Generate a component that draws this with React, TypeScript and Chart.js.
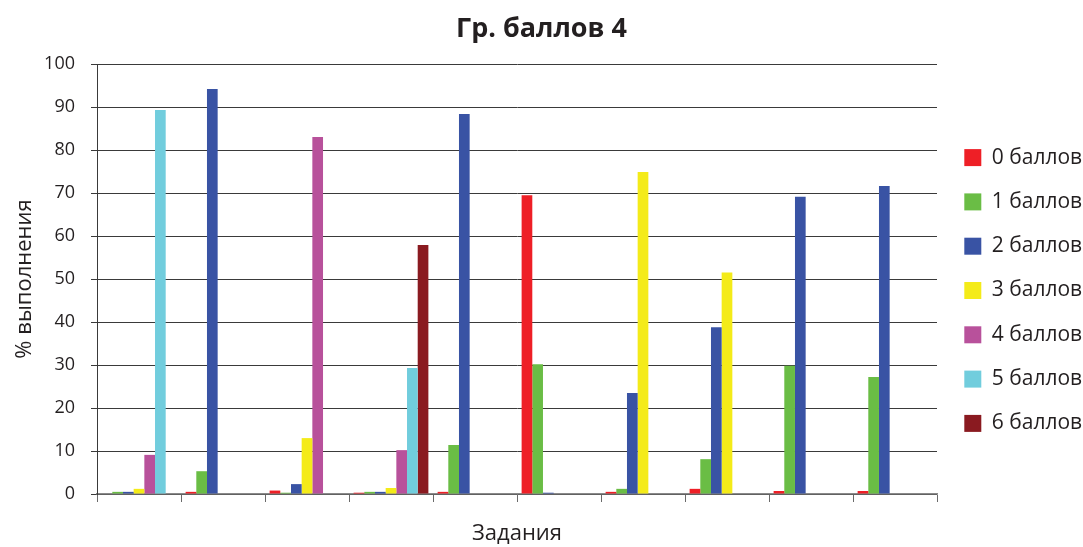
import React, { useEffect, useRef } from "react";
import { Chart, registerables } from "chart.js";

Chart.register(...registerables);

const categories = ["1", "2", "3", "4", "5", "6", "7", "8", "9", "10"];
const seriesNames = ["0 баллов", "1 баллов", "2 баллов", "3 баллов", "4 баллов", "5 баллов", "6 баллов"];
const score0 = [0, 0.5, 0.8, 0.3, 0.5, 69.5, 0.5, 1.2, 0.7, 0.7];
const score1 = [0.5, 5.3, 0.3, 0.5, 11.4, 30.2, 1.2, 8.1, 29.8, 27.2];
const score2 = [0.5, 94.2, 2.3, 0.5, 88.4, 0.3, 23.5, 38.8, 69.1, 71.6];
const score3 = [1.2, 0, 13.0, 1.4, 0, 0, 74.9, 51.5, 0, 0];
const score4 = [9.1, 0, 83.0, 10.2, 0, 0, 0, 0, 0, 0];
const score5 = [89.3, 0, 0, 29.3, 0, 0, 0, 0, 0, 0];
const score6 = [0, 0, 0, 57.9, 0, 0, 0, 0, 0, 0];
const seriesColors = ["#ee1f26", "#6abd45", "#3953a4", "#f4eb19", "#b8519b", "#71cddd", "#8a1a20"];

const FONT = "'Open Sans', 'Noto Sans', sans-serif";
const TEXT = "#231f20";

const legendPatch = {
  id: "legendPatch",
  beforeLayout(chart: any) {
    const lg: any = chart.legend;
    if (lg && !lg.__patched) {
      const orig = lg.fit.bind(lg);
      lg.fit = function () {
        orig();
        this.width = 146;
      };
      lg.__patched = true;
    }
  },
  beforeDraw(chart: any) {
    const lg: any = chart.legend;
    if (!lg) return;
    const w = lg.right - lg.left;
    lg.left = chart.chartArea.right + 4;
    lg.right = lg.left + w;
    const h = lg.bottom - lg.top;
    lg.top = 17;
    lg.bottom = 17 + h;
  },
};

export default function App() {
  const ref = useRef<HTMLCanvasElement | null>(null);
  useEffect(() => {
    if (!ref.current) return;
    const values = [score0, score1, score2, score3, score4, score5, score6];
    const chart = new Chart(ref.current, {
      type: "bar",
      data: {
        labels: categories,
        datasets: values.map((v, i) => ({
          label: seriesNames[i],
          data: v,
          backgroundColor: seriesColors[i],
          borderWidth: 0,
          categoryPercentage: 0.89,
          barPercentage: 1.0,
        })),
      },
      plugins: [legendPatch],
      options: {
        animation: false,
        responsive: true,
        maintainAspectRatio: false,
        layout: { padding: { left: 0, right: 0, top: 0, bottom: 0 } },
        plugins: {
          title: {
            display: true,
            text: "Гр. баллов 4",
            color: TEXT,
            font: { family: FONT, size: 27, weight: "bold" },
            padding: { top: 13, bottom: 18.6 },
          },
          legend: {
            position: "right",
            labels: {
              boxWidth: 17,
              boxHeight: 17,
              padding: 23.3,
              color: TEXT,
              font: { family: FONT, size: 21 },
            },
          },
          tooltip: { enabled: false },
        },
        scales: {
          x: {
            afterFit: (s: any) => {
              s.height = 53;
            },
            grid: {
              offset: true,
              drawOnChartArea: false,
              drawTicks: true,
              tickLength: 8,
              color: "#6a6a6a",
            },
            border: { color: "#8a8a8a", width: 1.5 },
            ticks: { display: false },
            title: {
              display: true,
              text: "Задания",
              color: TEXT,
              font: { family: FONT, size: 22 },
              padding: { top: 0, bottom: 0 },
            },
          },
          y: {
            min: 0,
            max: 100,
            afterFit: (s: any) => {
              s.width = 97;
            },
            ticks: {
              stepSize: 10,
              color: TEXT,
              padding: 16,
              font: { family: FONT, size: 18 },
            },
            grid: { color: "#3a3a3a", tickLength: 6, lineWidth: 1 },
            border: { color: "#3a3a3a", width: 1 },
            title: {
              display: true,
              text: "% выполнения",
              color: TEXT,
              font: { family: FONT, size: 22 },
              padding: { top: 12, bottom: 0 },
            },
          },
        },
      },
    });
    return () => chart.destroy();
  }, []);
  return (
    <div style={{ position: "fixed", left: 0, top: 0, width: 1083, height: 547, background: "#fff" }}>
      <canvas ref={ref} />
    </div>
  );
}
